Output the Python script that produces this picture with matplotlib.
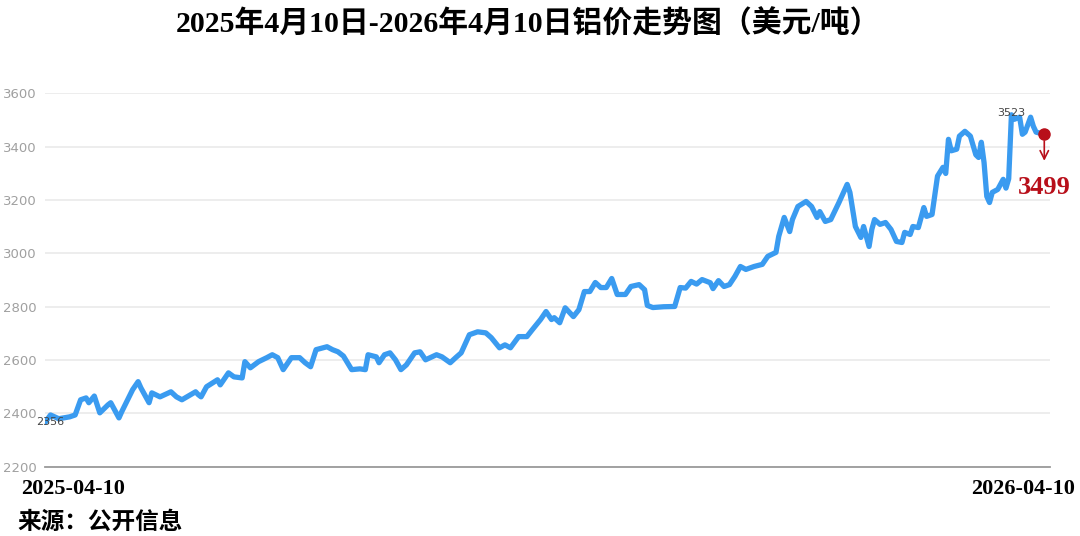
import matplotlib
matplotlib.use("Agg")
import matplotlib.pyplot as plt

# Aluminium price, USD/t — day offsets from 2025-04-10 and traced prices
days = [0, 2, 5, 9, 11, 13, 15, 16, 18, 20, 23, 24, 27, 28, 32, 34, 35, 38, 39, 42,
        46, 48, 50, 55, 56, 57, 59, 63, 64, 67, 69, 72, 73, 75, 78, 81, 83, 85, 87, 90,
        93, 95, 97, 99, 103, 105, 107, 109, 112, 115, 117, 118, 121, 122, 124, 126, 128, 130, 132, 135,
        137, 139, 143, 145, 148, 150, 152, 155, 158, 161, 163, 166, 168, 170, 173, 176, 178, 181, 183, 185,
        186, 188, 190, 193, 195, 197, 199, 201, 203, 205, 207, 209, 212, 214, 217, 219, 220, 222, 226, 230,
        232, 234, 236, 238, 240, 243, 244, 246, 248, 250, 252, 254, 256, 259, 262, 264, 267, 268, 270, 272,
        273, 275, 278, 280, 282, 283, 285, 287, 290, 291, 293, 294, 296, 298, 299, 301, 302, 303, 305, 307,
        309, 311, 313, 314, 316, 317, 319, 321, 322, 324, 326, 328, 329, 330, 331, 333, 334, 336, 338, 340,
        341, 342, 343, 344, 345, 346, 348, 350, 351, 352, 353, 354, 356, 357, 358, 360, 361, 362, 365]
prices = [2366, 2394, 2380, 2387, 2394, 2451, 2458, 2440, 2465, 2402, 2432, 2440, 2383, 2406, 2489, 2519, 2496, 2440, 2477, 2462,
          2481, 2462, 2451, 2481, 2470, 2462, 2500, 2526, 2507, 2552, 2537, 2533, 2594, 2571, 2594, 2609, 2620, 2609, 2564, 2609,
          2609, 2590, 2575, 2639, 2650, 2639, 2631, 2615, 2564, 2567, 2564, 2620, 2612, 2590, 2620, 2627, 2601, 2564, 2582, 2627,
          2631, 2601, 2620, 2612, 2590, 2609, 2627, 2695, 2706, 2702, 2684, 2646, 2657, 2646, 2688, 2688, 2714, 2752, 2782, 2752,
          2759, 2740, 2796, 2763, 2789, 2857, 2857, 2891, 2872, 2872, 2906, 2846, 2846, 2876, 2883, 2864, 2805, 2797, 2800, 2801,
          2872, 2870, 2895, 2885, 2902, 2890, 2868, 2898, 2876, 2883, 2914, 2951, 2940, 2951, 2959, 2989, 3004, 3064, 3135, 3082,
          3127, 3176, 3195, 3176, 3135, 3157, 3120, 3127, 3191, 3214, 3259, 3229, 3101, 3060, 3101, 3026, 3090, 3127, 3109, 3116,
          3090, 3045, 3041, 3079, 3071, 3101, 3097, 3172, 3139, 3146, 3290, 3323, 3300, 3428, 3385, 3391, 3440, 3458, 3440, 3370,
          3360, 3417, 3341, 3214, 3191, 3229, 3240, 3278, 3245, 3280, 3520, 3503, 3511, 3447, 3455, 3511, 3477, 3455, 3447]

y_ticks = [2200, 2400, 2600, 2800, 3000, 3200, 3400, 3600]
start_label = "2356"
peak_label = "3523"
last_label = "3499"

title = "2025年4月10日-2026年4月10日铝价走势图（美元/吨）"
date_left = "2025-04-10"
date_right = "2026-04-10"
source = "来源：公开信息"

SERIF_CJK = ["Liberation Serif", "Noto Sans CJK SC"]
LINE_BLUE = "#3a9bf0"
RED = "#b80f1a"

fig = plt.figure(figsize=(10.8, 5.36), dpi=100)
ax = fig.add_axes([0.0417, 0.1293, 0.9303, 0.6963])

ax.plot(days, prices, color=LINE_BLUE, lw=3.8, solid_joinstyle="round",
        solid_capstyle="round", zorder=3)

ax.set_xlim(0, 367)
ax.set_ylim(2200, 3600)
ax.set_yticks(y_ticks)
ax.set_xticks([])
ax.tick_params(axis="y", length=0, pad=6, labelsize=9.5, labelcolor="#a0a0a0")
for t in ax.get_yticklabels():
    t.set_family("DejaVu Sans")
ax.grid(axis="y", color="#ececec", lw=1.3)
ax.set_axisbelow(True)
for side in ["top", "right", "left"]:
    ax.spines[side].set_visible(False)
ax.spines["bottom"].set_color("#9a9a9a")
ax.spines["bottom"].set_linewidth(1.3)

# point labels
ax.annotate(start_label, (days[0], prices[0]), xytext=(4, 0), textcoords="offset points",
            ha="center", va="center", fontsize=8, color="#444444", zorder=4)
peak_i = prices.index(max(prices))
ax.annotate(peak_label, (days[peak_i], prices[peak_i]), xytext=(0, 1), textcoords="offset points",
            ha="center", va="center", fontsize=8, color="#444444", zorder=4)

# last price marker with arrow
ax.plot(days[-1], prices[-1], "o", color=RED, ms=8, zorder=5, clip_on=False)
ax.annotate("", xy=(days[-1], prices[-1] - 110), xytext=(days[-1], prices[-1] - 15),
            arrowprops=dict(arrowstyle="->", color=RED, lw=1.2, mutation_scale=15),
            annotation_clip=False)
ax.annotate(last_label, (days[-1], prices[-1]), xytext=(0, -38), textcoords="offset points",
            ha="center", va="center", fontsize=19, fontweight="bold", color=RED,
            family="Liberation Serif", annotation_clip=False)

fig.text(0.489, 0.956, title, ha="center", va="center", fontsize=21.5,
         fontweight="bold", family=SERIF_CJK)
fig.text(0.02, 0.088, date_left, ha="left", va="center", fontsize=16,
         fontweight="bold", family="Liberation Serif")
fig.text(0.995, 0.088, date_right, ha="right", va="center", fontsize=16,
         fontweight="bold", family="Liberation Serif")
fig.text(0.016, 0.026, source, ha="left", va="center", fontsize=17,
         fontweight="bold", family=["Noto Sans CJK SC", "DejaVu Sans"])

fig.savefig("out.png", dpi=100)
